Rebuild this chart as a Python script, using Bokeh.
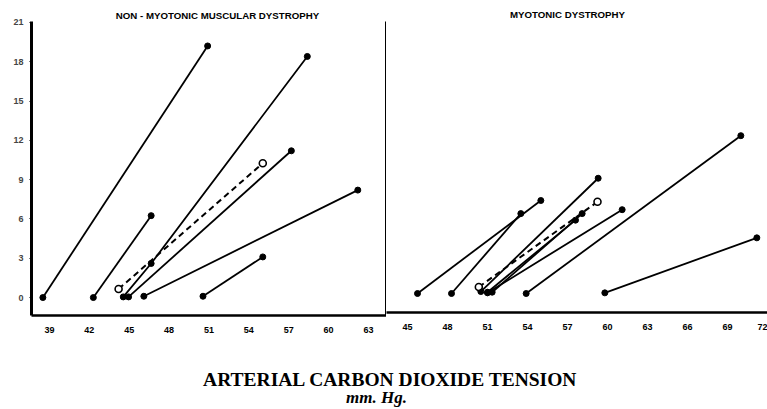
from bokeh.plotting import figure
from bokeh.models import LinearAxis, FixedTicker, Range1d
from bokeh.layouts import column, row
from bokeh.embed import file_html
from bokeh.resources import INLINE
from bokeh.core.properties import value

# ---------------- data ----------------
panel_titles = ["NON - MYOTONIC MUSCULAR DYSTROPHY", "MYOTONIC DYSTROPHY"]

# Non-myotonic muscular dystrophy: individual subjects (x = PaCO2 mm Hg, y = response)
nonmyo_x = [[38.5, 50.9], [42.3, 46.65], [44.55, 46.65, 58.4], [44.95, 57.2], [46.1, 62.2], [50.55, 55.05]]
nonmyo_y = [[0.0, 19.2], [0.0, 6.25], [0.05, 2.6, 18.4], [0.05, 11.2], [0.1, 8.2], [0.1, 3.1]]
nonmyo_mean_x = [44.2, 55.05]
nonmyo_mean_y = [0.65, 10.25]

# Myotonic dystrophy
myo_x = [[45.75, 55.0], [48.3, 53.5], [50.5, 59.3], [51.0, 57.6], [51.35, 58.1], [51.0, 61.1], [53.9, 70.0], [59.8, 71.2]]
myo_y = [[0.0, 7.1], [0.0, 6.1], [0.15, 8.8], [0.1, 5.6], [0.1, 6.1], [0.05, 6.4], [0.0, 12.05], [0.05, 4.25]]
myo_mean_x = [50.35, 59.25]
myo_mean_y = [0.5, 7.0]

left_xticks = [39, 42, 45, 48, 51, 54, 57, 60, 63]
right_xticks = [45, 48, 51, 54, 57, 60, 63, 66, 69, 72]
yticks = [0, 3, 6, 9, 12, 15, 18, 21]

xlabel_1 = "ARTERIAL CARBON DIOXIDE TENSION"
xlabel_2 = "mm. Hg."

TICK_FONT = "Liberation Sans"


def style_xaxis(ax, ticks):
    ax.ticker = FixedTicker(ticks=ticks)
    ax.axis_line_width = 2.5
    ax.axis_line_color = "black"
    ax.major_tick_line_color = None
    ax.minor_tick_line_color = None
    ax.major_label_standoff = 5
    ax.major_label_text_font = TICK_FONT
    ax.major_label_text_font_style = "bold"
    ax.major_label_text_font_size = "9px"
    ax.major_label_text_color = "black"


def draw_panel(p, xs, ys, mx, my):
    p.multi_line(xs, ys, line_color="black", line_width=1.8)
    p.line(mx, my, line_color="black", line_width=2, line_dash="6 4")
    fx = [v for line in xs for v in line]
    fy = [v for line in ys for v in line]
    p.scatter(fx, fy, marker="circle", size=6, fill_color="black", line_color="black")
    p.scatter(mx, my, marker="circle", size=7, fill_color="white", line_color="black", line_width=1.6)


# ---------------- left panel ----------------
p1 = figure(frame_width=355, frame_height=315, min_border_left=31, min_border_right=0,
            min_border_top=0, min_border_bottom=20,
            x_range=Range1d(37.645, 64.36), y_range=Range1d(-1.37, 22.67),
            output_backend="svg", toolbar_location=None, title=None, tools="")
p1.outline_line_color = None
p1.grid.visible = False
style_xaxis(p1.xaxis[0], left_xticks)
ya = p1.yaxis[0]
ya.ticker = FixedTicker(ticks=yticks)
ya.bounds = (-1.37, 21.05)
ya.axis_line_width = 3
ya.major_tick_out = 2
ya.major_tick_in = 0
ya.major_tick_line_color = "black"
ya.minor_tick_line_color = None
ya.major_label_standoff = 6
ya.major_label_text_font = TICK_FONT
ya.major_label_text_font_style = "bold"
ya.major_label_text_font_size = "9px"

div = LinearAxis(ticker=FixedTicker(ticks=[]), bounds=(-1.37, 21.1), axis_line_width=3,
                 major_tick_line_color=None, minor_tick_line_color=None,
                 major_label_text_font_size="0px", major_label_standoff=0)
p1.add_layout(div, "right")

draw_panel(p1, nonmyo_x, nonmyo_y, nonmyo_mean_x, nonmyo_mean_y)
p1.text(x=[51.64], y=[21.53], text=[panel_titles[0]], text_align="center", text_baseline="middle",
        text_font=value(TICK_FONT), text_font_style="bold", text_font_size="9.7px", text_color="black")

# ---------------- right panel ----------------
p2 = figure(frame_width=381, frame_height=312, min_border_left=0, min_border_right=0,
            min_border_top=0, min_border_bottom=23,
            x_range=Range1d(43.425, 72.0), y_range=Range1d(-1.45, 22.37),
            y_axis_location=None,
            output_backend="svg", toolbar_location=None, title=None, tools="")
p2.outline_line_color = None
p2.grid.visible = False
style_xaxis(p2.xaxis[0], right_xticks)
draw_panel(p2, myo_x, myo_y, myo_mean_x, myo_mean_y)
p2.text(x=[57.0], y=[21.3], text=[panel_titles[1]], text_align="center", text_baseline="middle",
        text_font=value(TICK_FONT), text_font_style="bold", text_font_size="9.7px", text_color="black")

# ---------------- axis caption ----------------
p3 = figure(width=767, height=73, x_range=Range1d(0, 767), y_range=Range1d(0, 73),
            min_border=0, output_backend="svg", toolbar_location=None, title=None, tools="",
            x_axis_location=None, y_axis_location=None)
p3.outline_line_color = None
p3.grid.visible = False
p3.text(x=[390], y=[29], text=[xlabel_1], text_align="center", text_baseline="alphabetic",
        text_font=value("Liberation Serif"), text_font_style="bold", text_font_size="19.5px", text_color="black")
p3.text(x=[376], y=[11], text=[xlabel_2], text_align="center", text_baseline="alphabetic",
        text_font=value("Liberation Serif"), text_font_style="bold italic", text_font_size="17px", text_color="black")

layout = column(row(p1, p2), p3, spacing=0)
open("out.html", "w").write(file_html(layout, INLINE))
